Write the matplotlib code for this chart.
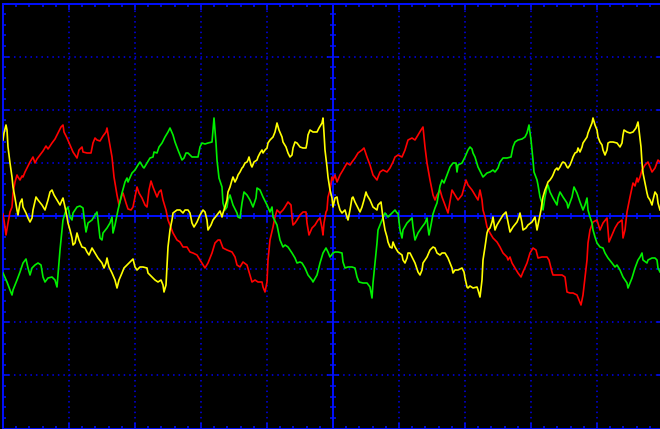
import matplotlib
matplotlib.use("Agg")
import matplotlib.pyplot as plt
import numpy as np

plt.rcParams["lines.scale_dashes"] = False

# Captured traces: time in samples, amplitude in ADC counts (0 = centre line)
red_t = [0, 1, 3, 5, 7, 9, 10, 12, 14, 15, 17, 19, 20, 22, 24, 27, 30, 32, 34, 37, 40, 43, 45, 47, 49, 52, 55, 58, 60, 61,
         64, 67, 70, 74, 76, 79, 80, 84, 88, 90, 92, 94, 97, 100, 103, 104, 106, 109, 111, 114, 116, 119, 120, 123, 125,
         128, 130, 132, 134, 136, 139, 142, 144, 146, 148, 150, 154, 156, 158, 160, 163, 165, 170, 174, 177, 180, 184,
         187, 190, 194, 197, 202, 205, 209, 212, 215, 217, 220, 224, 229, 232, 234, 237, 240, 244, 247, 249, 252, 255,
         259, 260, 262, 264, 265, 267, 270, 272, 274, 277, 280, 282, 285, 288, 289, 290, 292, 294, 297, 300, 303, 304,
         306, 309, 312, 315, 317, 319, 320, 321, 323, 324, 325, 327, 329, 330, 332, 334, 337, 340, 344, 347, 349, 352,
         355, 359, 361, 364, 367, 370, 374, 375, 377, 380, 384, 387, 390, 392, 395, 399, 402, 405, 409, 412, 415, 418,
         420, 422, 424, 427, 430, 432, 434, 437, 439, 442, 445, 449, 452, 455, 459, 463, 465, 469, 472, 475, 477, 479,
         480, 482, 484, 487, 490, 494, 497, 500, 504, 505, 507, 509, 512, 515, 518, 520, 524, 527, 530, 533, 535, 539,
         544, 546, 549, 550, 554, 559, 562, 564, 567, 570, 574, 576, 578, 580, 582, 584, 585, 587, 590, 594, 597, 600,
         604, 606, 609, 612, 615, 619, 620, 622, 624, 627, 630, 632, 634, 635, 637, 639, 642, 645, 649, 652, 655, 657]
red_v = [2, -4, -19, -7, 4, 9, 23, 34, 41, 39, 36, 40, 39, 44, 48, 54, 59, 53, 57, 61, 65, 70, 67, 70, 73, 77, 83, 89, 91, 84,
         78, 71, 64, 58, 66, 69, 64, 63, 63, 73, 78, 76, 75, 80, 84, 88, 76, 59, 39, 21, 11, 21, 23, 13, 7,
         6, 9, 19, 29, 23, 18, 11, 9, 26, 35, 29, 19, 24, 26, 16, 6, -4, -17, -24, -26, -31, -31,
         -36, -37, -39, -44, -52, -47, -37, -27, -24, -24, -32, -34, -36, -41, -49, -51, -46, -49, -59, -66, -64, -66,
         -66, -71, -76, -66, -44, -24, -11, -1, 6, 3, 6, 9, 14, 11, -1, -9, -7, -4, 1, 4, 4, -7,
         -19, -12, -9, -4, -2, -12, -19, -7, 4, 6, 19, 26, 39, 36, 41, 34, 41, 46, 53, 51, 54, 58,
         63, 66, 68, 59, 51, 41, 36, 39, 44, 46, 44, 48, 54, 59, 61, 59, 66, 76, 78, 76, 81, 86,
         89, 69, 53, 36, 21, 16, 21, 26, 19, 11, 3, 26, 21, 16, 21, 36, 31, 26, 21, 16, 26, 16,
         6, -1, -11, -17, -22, -26, -31, -37, -41, -44, -41, -47, -52, -57, -61, -56, -47, -37, -32, -34, -42, -41,
         -41, -44, -56, -59, -59, -59, -61, -76, -77, -77, -79, -84, -89, -79, -61, -44, -27, -14, -6, -4, -14, -7,
         -2, -26, -19, -12, -7, -4, -22, -14, 4, 19, 33, 30, 38, 34, 39, 46, 51, 54, 44, 48, 56, 54]

green_t = [0, 4, 7, 9, 10, 14, 17, 20, 23, 25, 27, 29, 32, 35, 38, 40, 42, 45, 49, 52, 54, 55, 57, 59, 60, 63, 65, 67, 69,
           70, 72, 74, 77, 80, 81, 83, 85, 89, 92, 94, 95, 97, 99, 100, 104, 107, 109, 110, 112, 114, 115, 119, 122, 124,
           125, 129, 132, 135, 137, 140, 141, 144, 147, 150, 151, 154, 156, 159, 162, 165, 167, 170, 172, 175, 179, 181,
           183, 185, 189, 192, 195, 197, 199, 202, 205, 209, 210, 211, 213, 214, 216, 219, 220, 222, 224, 225, 227, 230,
           234, 235, 237, 239, 241, 244, 247, 250, 253, 254, 257, 260, 264, 267, 269, 270, 274, 275, 277, 280, 282, 285,
           289, 292, 294, 297, 299, 302, 305, 309, 310, 314, 317, 320, 323, 325, 327, 330, 332, 335, 339, 340, 342, 345,
           349, 352, 354, 356, 360, 364, 367, 369, 370, 372, 374, 375, 379, 382, 385, 389, 392, 394, 395, 397, 399, 400,
           404, 407, 409, 410, 412, 415, 419, 422, 424, 425, 426, 428, 430, 432, 434, 435, 437, 439, 441, 444, 447, 450,
           453, 454, 455, 459, 462, 465, 467, 469, 470, 472, 475, 479, 480, 484, 487, 490, 492, 495, 497, 500, 504, 508,
           509, 510, 512, 515, 519, 522, 524, 526, 528, 530, 531, 534, 535, 537, 539, 540, 542, 544, 545, 547, 550, 554,
           555, 557, 560, 564, 565, 569, 571, 574, 577, 580, 582, 584, 585, 587, 589, 590, 592, 594, 597, 600, 602, 605,
           609, 612, 614, 617, 620, 624, 625, 629, 632, 635, 637, 639, 640, 644, 645, 649, 652, 654, 655, 657]
green_v = [-57, -66, -74, -79, -74, -64, -56, -47, -43, -52, -59, -52, -49, -47, -49, -61, -66, -62, -61, -64, -71, -59, -34,
           -14, -4, 6, 9, -1, -4, 3, 6, 9, 10, 8, -1, -16, -7, -4, 1, 4, -4, -22, -24, -17, -12, -7, -1, -17, -9, 1, 6,
           23, 34, 38, 34, 43, 46, 51, 54, 49, 48, 53, 58, 59, 64, 63, 69, 73, 79, 84, 88, 81, 74, 66, 56, 58, 63, 63,
           59, 59, 59, 69, 73, 72, 73, 74, 86, 98, 73, 56, 38, 29, 13, 6, 9, 16, 21, 11, 3, -1, -2, 13, 24, 21, 16, 9,
           18, 28, 26, 19, 11, 4, 9, -1, -9, -14, -24, -31, -29, -31, -37, -42, -47, -46, -47, -52, -59, -64, -66, -59,
           -47, -37, -32, -36, -41, -37, -36, -36, -37, -46, -52, -51, -51, -52, -61, -66, -67, -67, -71, -82, -67, -47,
           -27, -14, -4, 3, -1, 3, 6, 3, 3, -14, -22, -14, -7, -4, -2, -11, -24, -17, -11, -7, -2, -12, -19, -9, 2, 8,
           13, 19, 30, 36, 33, 41, 49, 53, 53, 44, 51, 53, 59, 66, 69, 67, 63, 59, 49, 41, 39, 43, 44, 46, 44, 48, 54,
           58, 58, 59, 64, 69, 74, 76, 77, 79, 83, 91, 76, 56, 44, 36, 31, 19, 13, 6, 19, 29, 31, 24, 18, 11, 18, 24,
           19, 13, 8, 19, 29, 23, 14, 6, 11, 18, 6, -1, -7, -14, -21, -27, -31, -32, -37, -42, -47, -51, -49, -54, -61,
           -67, -72, -62, -52, -44, -41, -37, -44, -47, -44, -42, -42, -44, -52, -56]

yellow_t = [0, 1, 3, 4, 5, 7, 9, 10, 12, 14, 15, 17, 19, 20, 23, 25, 27, 29, 30, 33, 35, 39, 42, 45, 47, 49, 51, 54, 57, 59,
            60, 62, 64, 65, 67, 69, 70, 72, 74, 76, 79, 82, 84, 86, 89, 92, 95, 99, 101, 103, 104, 106, 109, 112, 114,
            116, 119, 121, 124, 127, 130, 132, 134, 137, 140, 144, 145, 149, 152, 155, 158, 160, 161, 163, 164, 165, 167,
            169, 170, 174, 177, 180, 182, 185, 187, 189, 191, 194, 197, 200, 202, 204, 205, 208, 210, 214, 217, 219, 220,
            222, 224, 225, 227, 229, 230, 232, 234, 235, 237, 239, 240, 242, 244, 245, 246, 248, 249, 251, 254, 255, 257,
            259, 260, 262, 264, 265, 267, 270, 272, 274, 276, 279, 280, 283, 285, 287, 289, 290, 292, 294, 297, 300, 303,
            304, 305, 307, 310, 314, 316, 319, 320, 321, 322, 324, 325, 327, 329, 330, 332, 334, 335, 337, 339, 342, 344,
            345, 347, 349, 350, 352, 355, 357, 359, 361, 363, 364, 367, 370, 374, 375, 378, 379, 380, 382, 384, 385, 387,
            389, 390, 392, 395, 399, 400, 402, 404, 405, 407, 409, 412, 415, 417, 419, 420, 424, 427, 430, 432, 434, 437,
            439, 442, 445, 449, 450, 452, 455, 459, 461, 462, 464, 465, 467, 470, 474, 475, 477, 479, 480, 482, 484, 485,
            487, 489, 490, 492, 494, 497, 500, 503, 505, 507, 510, 514, 516, 517, 519, 520, 523, 525, 529, 532, 534, 536,
            538, 539, 540, 542, 544, 545, 547, 549, 550, 552, 554, 555, 557, 559, 560, 562, 564, 565, 567, 569, 570, 572,
            574, 575, 577, 579, 580, 582, 584, 585, 587, 589, 590, 592, 594, 595, 597, 599, 600, 602, 604, 605, 607, 610,
            614, 617, 619, 620, 621, 624, 627, 630, 633, 635, 636, 638, 639, 640, 642, 644, 645, 647, 649, 650, 652, 654,
            655, 657]
yellow_v = [76, 83, 91, 86, 69, 53, 39, 29, 18, 6, 1, 13, 17, 9, 3, -2, -6, -2, 6, 19, 16, 11, 6, 16, 24, 26, 21, 16, 11,
            16, 18, 9, -1, -7, -14, -22, -29, -27, -17, -24, -31, -32, -36, -39, -32, -37, -42, -47, -52, -47, -42, -51,
            -57, -64, -72, -64, -57, -52, -49, -46, -43, -51, -54, -51, -51, -52, -57, -61, -64, -66, -64, -69, -76, -69,
            -51, -31, -14, -4, 3, 6, 6, 3, 6, 6, 3, -7, -11, -6, 1, 6, 4, -4, -14, -9, -4, 1, 5, -1, 3, 9, 16, 24, 29,
            36, 39, 34, 38, 41, 44, 48, 49, 53, 54, 56, 59, 51, 49, 54, 56, 59, 63, 66, 63, 66, 68, 73, 76, 79, 84, 93,
            86, 79, 74, 69, 63, 59, 61, 68, 74, 73, 69, 68, 68, 73, 81, 86, 84, 84, 88, 93, 98, 83, 66, 49, 39, 26, 18,
            9, 18, 19, 13, 6, 3, 6, -1, -4, 6, 18, 19, 14, 8, 4, 9, 16, 24, 21, 16, 9, 6, 11, 14, 6, -2, -14, -21, -26,
            -31, -32, -26, -31, -36, -39, -44, -47, -42, -37, -37, -41, -47, -56, -59, -54, -47, -41, -34, -31, -32, -37,
            -39, -37, -37, -42, -52, -57, -54, -54, -52, -56, -62, -71, -72, -70, -72, -71, -74, -81, -64, -44, -31, -17,
            -14, -12, -6, -1, -14, -9, -4, 1, 4, -6, -16, -11, -6, -1, 3, -7, -14, -12, -9, -6, -1, -14, -4, 6, 13, 19,
            26, 31, 34, 36, 39, 41, 46, 48, 46, 49, 53, 54, 53, 49, 48, 51, 56, 59, 63, 64, 68, 64, 69, 73, 76, 79, 83,
            88, 93, 98, 91, 86, 79, 74, 71, 66, 61, 66, 73, 74, 74, 73, 69, 73, 81, 86, 84, 83, 84, 88, 94, 86, 69, 53,
            43, 33, 23, 19, 16, 11, 16, 24, 21, 13, 6]

# Screen geometry
T_SPAN = 660.0
V_HALF = 212.5
N_XDIV, N_YDIV = 10, 8
XDIV = T_SPAN / N_XDIV
YDIV = 2 * V_HALF / N_YDIV

FRAME_BLUE = "#0010ff"
GRID_BLUE = "#0000dc"

fig = plt.figure(figsize=(6.6, 4.29), dpi=100, facecolor="black")
rect = [3 / 660, 0.5 / 429, 1.0, 425 / 429]


def new_axes():
    a = fig.add_axes(rect)
    a.set_xlim(0, T_SPAN)
    a.set_ylim(-V_HALF, V_HALF)
    return a


xmaj = np.arange(0, T_SPAN + 0.1, XDIV)
ymaj = np.arange(-V_HALF, V_HALF + 0.1, YDIV)
xmin = np.arange(0, T_SPAN + 0.1, XDIV / 5)
ymin = np.arange(-V_HALF, V_HALF + 0.1, YDIV / 5)


def set_ticks(a):
    a.set_xticks(xmaj)
    a.set_yticks(ymaj)
    a.set_xticks(xmin, minor=True)
    a.set_yticks(ymin, minor=True)


# --- screen frame and dotted graticule ---
ax = new_axes()
ax.set_facecolor("black")
for i in range(1, N_XDIV):
    if i != N_XDIV // 2:
        ax.axvline(i * XDIV, color=GRID_BLUE, lw=1.2, ls=(0, (1.1, 2.7)), zorder=1)
for j in range(1, N_YDIV):
    if j != N_YDIV // 2:
        ax.axhline(-V_HALF + j * YDIV, color=GRID_BLUE, lw=1.2, ls=(0, (1.1, 2.85)), zorder=1)
set_ticks(ax)
ax.tick_params(which="both", direction="in", top=True, right=True, bottom=True, left=True,
               labelbottom=False, labelleft=False, color=FRAME_BLUE, width=1.1)
ax.tick_params(which="major", length=4)
ax.tick_params(which="minor", length=2)
for s in ax.spines.values():
    s.set_color(FRAME_BLUE)
    s.set_linewidth(1.4)

# --- centre axes with crossing ticks ---
axc = new_axes()
axc.patch.set_visible(False)
set_ticks(axc)
axc.spines["top"].set_visible(False)
axc.spines["right"].set_visible(False)
axc.spines["left"].set_position(("data", T_SPAN / 2))
axc.spines["bottom"].set_position(("data", 0))
for k in ("left", "bottom"):
    axc.spines[k].set_color(FRAME_BLUE)
    axc.spines[k].set_linewidth(1.4)
axc.tick_params(which="both", direction="inout", labelbottom=False, labelleft=False,
                color=FRAME_BLUE, width=1.1)
axc.tick_params(which="major", length=8)
axc.tick_params(which="minor", length=4.5)

# --- traces, drawn over the graticule ---
axt = new_axes()
axt.patch.set_visible(False)
axt.axis("off")
axt.plot(red_t, red_v, color="#ff0000", lw=1.2)
axt.plot(green_t, green_v, color="#00f000", lw=1.2)
axt.plot(yellow_t, yellow_v, color="#ffff00", lw=1.2)

fig.savefig("out.png", dpi=100, facecolor="black")
